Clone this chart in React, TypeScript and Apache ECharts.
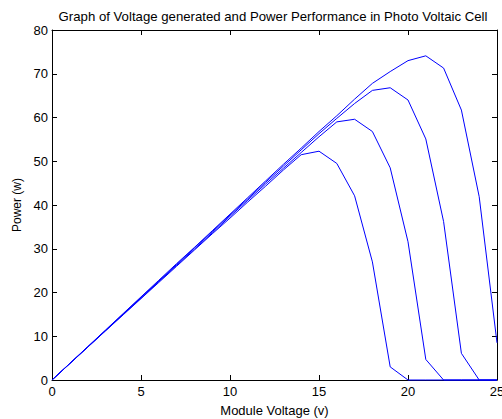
import React, { useEffect, useRef } from "react";
import * as echarts from "echarts";

const voltage = [0,1,2,3,4,5,6,7,8,9,10,11,12,13,14,15,16,17,18,19,20,21,22,23,24,25];
const power1 = [0,3.74,7.47,11.2,14.9,18.6,22.3,26.0,29.7,33.4,37.0,40.7,44.3,48.0,51.5,52.3,49.5,42.1,27.0,3.0,0,0,0,0,0,0];
const power2 = [0,3.76,7.5,11.25,15.0,18.7,22.5,26.2,29.9,33.6,37.4,41.1,44.8,48.4,52.0,55.6,59.0,59.6,56.8,48.5,31.6,4.7,0,0,0,0];
const power3 = [0,3.78,7.55,11.3,15.1,18.9,22.6,26.4,30.2,33.9,37.7,41.4,45.2,48.9,52.6,56.3,59.8,63.2,66.2,66.8,64.0,55.1,36.2,6.1,0,0];
const power4 = [0,3.8,7.6,11.4,15.2,19.0,22.8,26.6,30.3,34.1,37.9,41.7,45.5,49.3,53.0,56.8,60.4,64.2,67.8,70.5,73.0,74.1,71.3,61.7,41.9,8.5];
const seriesList = [power1, power2, power3, power4];

const FONT = "'Liberation Sans', Arial, sans-serif";

export default function App() {
  const ref = useRef<HTMLDivElement>(null);
  useEffect(() => {
    if (!ref.current) return;
    const chart = echarts.init(ref.current, undefined, { renderer: "svg" });
    const axisLine = { show: true, onZero: false, lineStyle: { color: "#000", width: 1 } };
    const tickIn = { show: true, inside: true, length: 5, lineStyle: { color: "#000" } };
    chart.setOption({
      animation: false,
      backgroundColor: "#fff",
      title: {
        text: "Graph of Voltage generated and Power Performance in Photo Voltaic Cell",
        left: 268, top: 5, textAlign: "center",
        textStyle: { fontFamily: FONT, fontSize: 13.2, fontWeight: "normal", color: "#000" },
      },
      grid: { left: 52, right: 5, top: 30, bottom: 39, containLabel: false, outerBoundsMode: "none" },
      xAxis: [
        {
          type: "value", min: 0, max: 25, interval: 5,
          axisLine, axisTick: tickIn, splitLine: { show: false },
          axisLabel: { fontFamily: FONT, fontSize: 13, color: "#000", margin: 5 },
          name: "Module Voltage (v)", nameLocation: "middle", nameGap: 24,
          nameTextStyle: { fontFamily: FONT, fontSize: 13, color: "#000" },
        },
        {
          type: "value", min: 0, max: 25, interval: 5, position: "top",
          axisLine, axisTick: tickIn, splitLine: { show: false }, axisLabel: { show: false },
        },
      ],
      yAxis: [
        {
          type: "value", min: 0, max: 80, interval: 10,
          axisLine, axisTick: tickIn, splitLine: { show: false },
          axisLabel: { fontFamily: FONT, fontSize: 13, color: "#000", margin: 4 },
          name: "Power (w)", nameLocation: "middle", nameGap: 23,
          nameTextStyle: { fontFamily: FONT, fontSize: 12, color: "#000" },
        },
        {
          type: "value", min: 0, max: 80, interval: 10, position: "right",
          axisLine, axisTick: tickIn, splitLine: { show: false }, axisLabel: { show: false },
        },
      ],
      series: seriesList.map((s, i) => ({
        name: "P" + (i + 1),
        type: "line",
        z: 5,
        data: voltage.map((v, j) => [v, s[j]]),
        showSymbol: false,
        symbol: "none",
        lineStyle: { color: "#0000ff", width: 1 },
        clip: false,
      })),
    });
    return () => chart.dispose();
  }, []);
  return <div ref={ref} style={{ width: 502, height: 419, position: "absolute", left: 0, top: 0 }} />;
}
